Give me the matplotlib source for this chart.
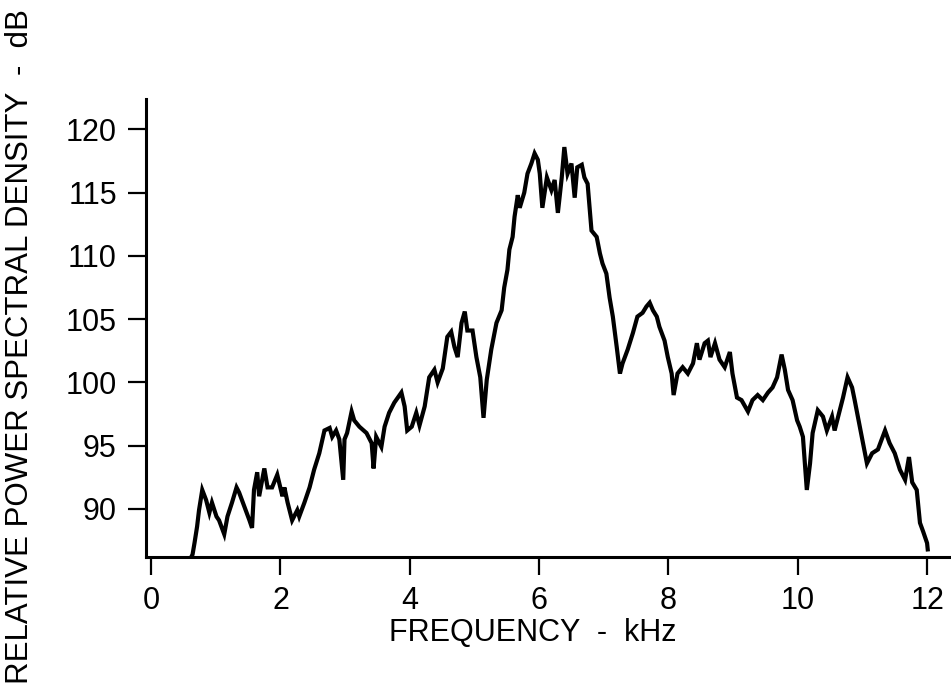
import matplotlib
matplotlib.use("Agg")
import matplotlib.pyplot as plt
from matplotlib import font_manager

# frequency (kHz) and level (dB)
freq_khz = [0.60, 0.64, 0.67, 0.71, 0.74, 0.79, 0.85, 0.90, 0.94, 1.01,
            1.05, 1.13, 1.18, 1.25, 1.32, 1.36, 1.44, 1.52, 1.56, 1.59,
            1.64, 1.67, 1.75, 1.80, 1.87, 1.95, 2.03, 2.06, 2.11, 2.18,
            2.26, 2.29, 2.37, 2.45, 2.52, 2.60, 2.68, 2.76, 2.80, 2.86,
            2.91, 2.97, 2.99, 3.03, 3.10, 3.14, 3.22, 3.33, 3.41, 3.44,
            3.48, 3.56, 3.61, 3.68, 3.76, 3.87, 3.92, 3.96, 4.03, 4.10,
            4.15, 4.23, 4.30, 4.38, 4.43, 4.51, 4.58, 4.64, 4.69, 4.74,
            4.80, 4.85, 4.89, 4.97, 5.03, 5.09, 5.14, 5.19, 5.26, 5.34,
            5.42, 5.46, 5.51, 5.54, 5.59, 5.62, 5.67, 5.70, 5.77, 5.82,
            5.88, 5.93, 5.98, 6.01, 6.05, 6.12, 6.19, 6.24, 6.29, 6.35,
            6.39, 6.44, 6.50, 6.55, 6.59, 6.66, 6.70, 6.75, 6.78, 6.81,
            6.89, 6.94, 6.98, 7.04, 7.09, 7.14, 7.20, 7.25, 7.29, 7.37,
            7.45, 7.52, 7.60, 7.66, 7.71, 7.76, 7.82, 7.86, 7.94, 7.99,
            8.05, 8.08, 8.14, 8.22, 8.30, 8.38, 8.44, 8.48, 8.56, 8.61,
            8.65, 8.72, 8.79, 8.87, 8.95, 8.99, 9.06, 9.13, 9.23, 9.30,
            9.38, 9.46, 9.54, 9.61, 9.68, 9.75, 9.80, 9.85, 9.92, 9.99,
            10.03, 10.08, 10.12, 10.14, 10.19, 10.23, 10.31, 10.39, 10.45, 10.53,
            10.57, 10.65, 10.70, 10.77, 10.84, 10.88, 10.93, 10.99, 11.07, 11.15,
            11.24, 11.35, 11.42, 11.50, 11.58, 11.66, 11.72, 11.77, 11.84, 11.89,
            11.94, 12.00, 12.01]
level_db = [86.0, 86.4, 87.3, 88.6, 89.9, 91.5, 90.7, 89.7, 90.5, 89.4,
            89.1, 88.0, 89.4, 90.5, 91.7, 91.3, 90.2, 89.1, 88.5, 91.5,
            92.9, 91.0, 93.2, 91.7, 91.7, 92.7, 91.0, 91.7, 90.5, 89.1,
            89.9, 89.4, 90.5, 91.7, 93.1, 94.4, 96.2, 96.4, 95.7, 96.2,
            95.5, 92.3, 95.5, 96.0, 97.7, 97.0, 96.5, 96.0, 95.2, 93.2,
            95.7, 94.9, 96.5, 97.6, 98.4, 99.2, 98.1, 96.2, 96.5, 97.6,
            96.6, 98.1, 100.4, 101.0, 100.0, 101.1, 103.6, 104.0, 102.8, 102.0,
            104.7, 105.6, 104.1, 104.1, 102.0, 100.4, 97.2, 100.2, 102.6, 104.7,
            105.7, 107.5, 108.9, 110.5, 111.5, 113.1, 114.8, 113.8, 115.0, 116.5,
            117.3, 118.1, 117.6, 116.5, 113.8, 116.2, 115.2, 116.0, 113.4, 116.2,
            118.6, 116.5, 117.3, 114.6, 117.0, 117.2, 116.2, 115.7, 113.8, 112.0,
            111.5, 110.2, 109.4, 108.6, 106.7, 105.2, 102.8, 100.7, 101.5, 102.6,
            103.9, 105.2, 105.5, 106.0, 106.3, 105.7, 105.2, 104.4, 103.3, 102.0,
            100.7, 99.0, 100.7, 101.2, 100.7, 101.5, 103.1, 101.8, 103.1, 103.3,
            102.0, 103.1, 101.8, 101.2, 102.4, 100.7, 98.8, 98.6, 97.7, 98.6,
            99.0, 98.6, 99.2, 99.6, 100.4, 102.2, 101.0, 99.4, 98.6, 97.0,
            96.5, 95.7, 92.9, 91.5, 93.6, 96.0, 97.8, 97.3, 96.2, 97.3,
            96.2, 97.8, 98.8, 100.4, 99.6, 98.6, 97.3, 95.7, 93.6, 94.4,
            94.7, 96.2, 95.2, 94.4, 93.1, 92.3, 94.1, 92.1, 91.5, 88.9,
            88.2, 87.3, 86.8]

x_ticks = [0, 2, 4, 6, 8, 10, 12]
y_ticks = [90, 95, 100, 105, 110, 115, 120]

installed = {f.name for f in font_manager.fontManager.ttflist}
family = "Liberation Sans Narrow" if "Liberation Sans Narrow" in installed else "Liberation Sans"
plt.rcParams["font.family"] = family

fig = plt.figure(figsize=(9.51, 6.94), dpi=100)
ax = fig.add_axes([146 / 951, 1 - 557 / 694, 1 - 146 / 951, (557 - 99) / 694])

ax.plot(freq_khz, level_db, color="black", linewidth=3.0, solid_joinstyle="miter")

ax.set_xlim(-0.08, 12.37)
ax.set_ylim(86.2, 122.4)
ax.set_xticks(x_ticks)
ax.set_yticks(y_ticks)
ax.tick_params(direction="out", length=13, width=1.6, labelsize=22, pad=8, colors="black")

for side in ["top", "right"]:
    ax.spines[side].set_visible(False)
for side in ["left", "bottom"]:
    ax.spines[side].set_linewidth(2.2)

fig.text(533 / 951, 1 - 633 / 694, "FREQUENCY  -  kHz", ha="center", va="center", fontsize=22)
fig.text(20 / 951, 1 - 347 / 694, "RELATIVE POWER SPECTRAL DENSITY  -  dB", ha="center",
         va="center", rotation=90, fontsize=22.5)

fig.savefig("out.png", dpi=100)
